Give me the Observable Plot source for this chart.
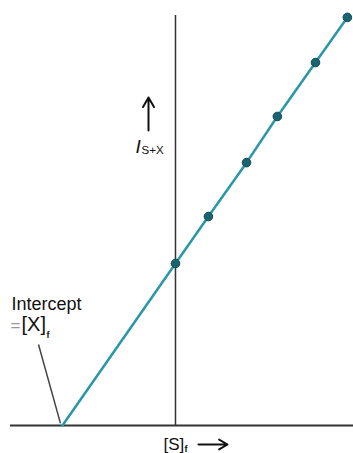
<!DOCTYPE html>
<html>
<head>
<meta charset="utf-8">
<script src="https://cdn.jsdelivr.net/npm/d3@7"></script>
<script src="https://cdn.jsdelivr.net/npm/@observablehq/plot@0.6"></script>
<style>
  html, body { margin: 0; padding: 0; background: #fff; }
</style>
</head>
<body>
<div id="chart"></div>
<script>
// Standard addition data (arbitrary units)
const concS = [0, 0.94, 2.03, 2.91, 4.0, 4.91];        // [S]_f
const signal = [4.63, 5.97, 7.51, 8.83, 10.37, 11.66]; // I_(S+X)
const interceptX = -3.23;                              // -[X]_f
const xDomain = [-4.714, 5.086];
const yDomain = [0, 12.143];

const points = concS.map((x, i) => ({x, y: signal[i]}));
const lineData = [{x: interceptX, y: 0}, ...points];

const font = "'Liberation Sans', Arial, Helvetica, sans-serif";
const teal = "#2a97a8";

const plot = Plot.plot({
  width: 353,
  height: 453,
  marginLeft: 10,
  marginRight: 0,
  marginTop: 0,
  marginBottom: 28,
  x: {domain: xDomain, axis: null},
  y: {domain: yDomain, axis: null},
  style: {fontFamily: font, background: "#fff", overflow: "visible"},
  marks: [
    // axes
    Plot.ruleY([0], {x1: xDomain[0], x2: xDomain[1], stroke: "#333", strokeWidth: 2}),
    Plot.ruleX([0], {y1: 0, y2: 11.714, stroke: "#333", strokeWidth: 1.5}),
    // leader line for intercept
    Plot.link([0], {x1: -3.914, y1: 2.314, x2: -3.286, y2: 0.06, stroke: "#444", strokeWidth: 1.5}),
    // fitted line and points
    Plot.line(lineData, {x: "x", y: "y", stroke: teal, strokeWidth: 2.5}),
    Plot.dot(points, {x: "x", y: "y", r: 4.3, fill: "#1a6470", stroke: "#124b55", strokeWidth: 1}),
    // y label: I_(S+X) with up arrow
    Plot.arrow([0], {x1: -0.771, y1: 8.43, x2: -0.771, y2: 9.37, stroke: "#111", strokeWidth: 2, headLength: 9}),
    Plot.text(["I"], {x: -1.143, y: 7.8, text: d => d, textAnchor: "start", lineAnchor: "bottom", fontSize: 19, fontStyle: "italic", fill: "#111"}),
    Plot.text(["S+X"], {x: -0.97, y: 7.743, text: d => d, textAnchor: "start", lineAnchor: "bottom", fontSize: 11.5, fill: "#111"}),
    // x label: [S]_f with right arrow
    Plot.text(["[S]"], {x: -0.343, y: -0.714, text: d => d, textAnchor: "start", lineAnchor: "bottom", fontSize: 17, fill: "#111"}),
    Plot.text(["f"], {x: 0.257, y: -0.771, text: d => d, textAnchor: "start", lineAnchor: "bottom", fontSize: 9, fontWeight: "bold", fill: "#111"}),
    Plot.arrow([0], {x1: 0.657, y1: -0.543, x2: 1.486, y2: -0.543, stroke: "#111", strokeWidth: 2, headLength: 9}),
    // intercept annotation
    Plot.text(["Intercept"], {x: -4.686, y: 3.314, text: d => d, textAnchor: "start", lineAnchor: "bottom", fontSize: 18, fill: "#111"}),
    Plot.text(["="], {x: -4.714, y: 2.686, text: d => d, textAnchor: "start", lineAnchor: "bottom", fontSize: 17, fill: "#999"}),
    Plot.text(["[X]"], {x: -4.4, y: 2.686, text: d => d, textAnchor: "start", lineAnchor: "bottom", fontSize: 20, fill: "#111"}),
    Plot.text(["f"], {x: -3.686, y: 2.514, text: d => d, textAnchor: "start", lineAnchor: "bottom", fontSize: 9, fontWeight: "bold", fill: "#111"})
  ]
});
document.getElementById("chart").appendChild(plot);
</script>
</body>
</html>
